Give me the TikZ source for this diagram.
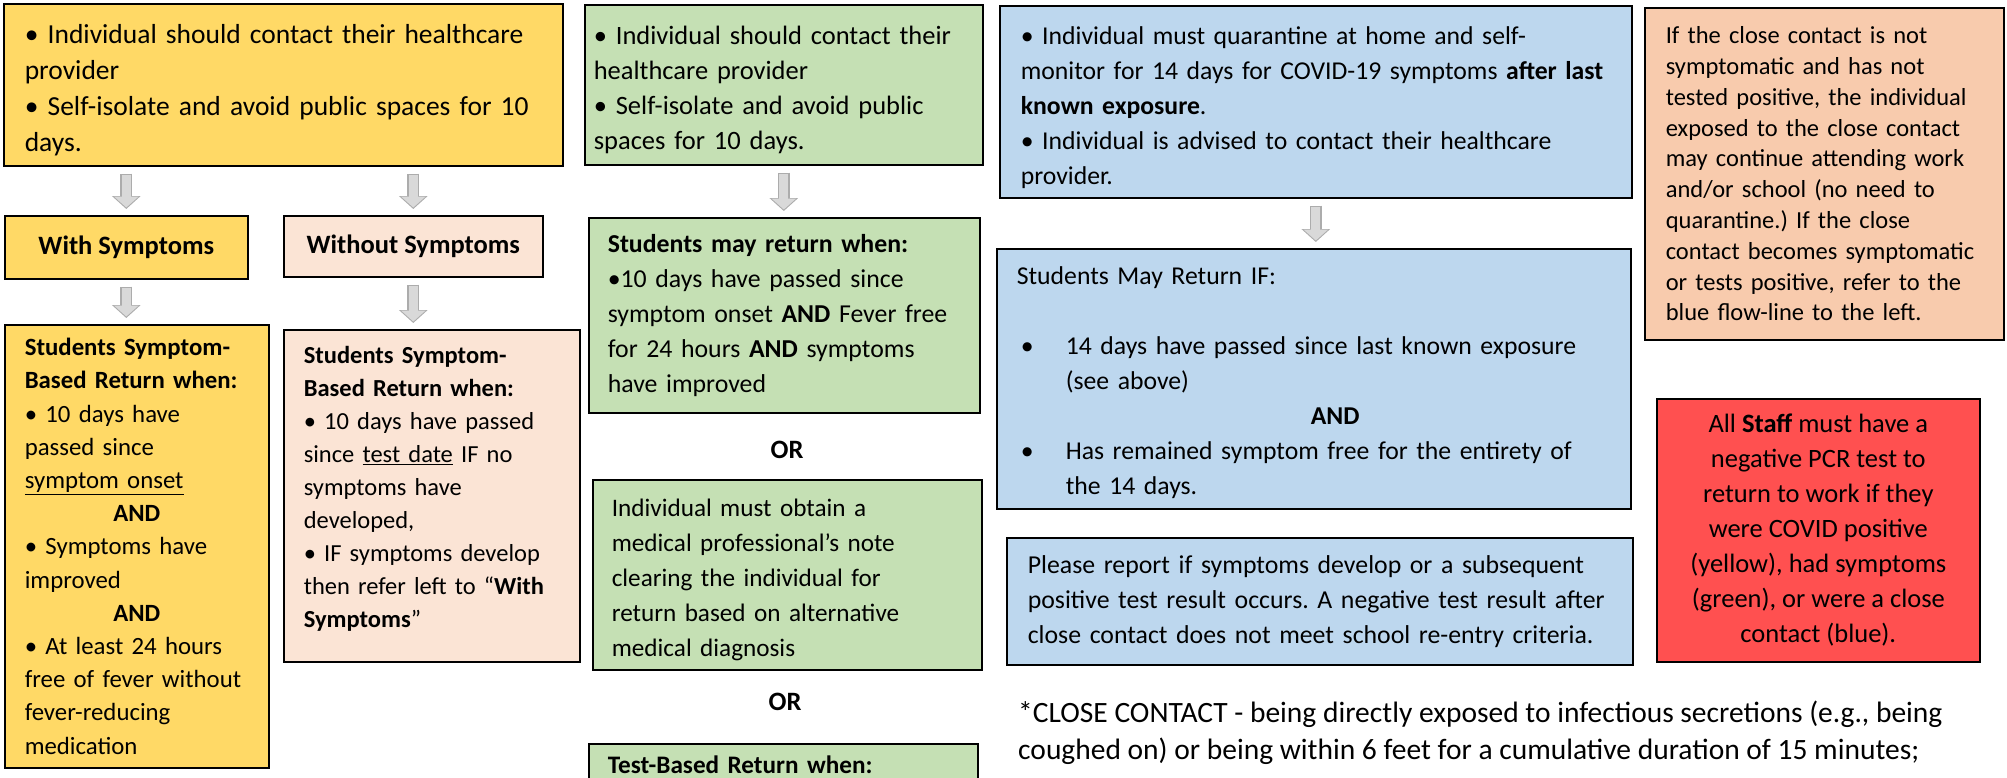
\documentclass[tikz,border=0pt]{standalone}
\usepackage{fontspec}
\setmainfont{Carlito}
\usepackage{tikz}
\usetikzlibrary{arrows.meta}
\definecolor{cyel}{RGB}{255,217,102}
\definecolor{cpnk}{RGB}{251,228,213}
\definecolor{cgrn}{RGB}{197,224,180}
\definecolor{cblu}{RGB}{189,215,238}
\definecolor{corg}{RGB}{248,203,173}
\definecolor{cred}{RGB}{255,80,80}
\hyphenpenalty=10000
\exhyphenpenalty=10000
\frenchspacing
\tikzset{
  flowbox/.style = {rectangle, draw=black, line width=1.6pt, anchor=north west,
    align=left, inner ysep=0pt, font=\fontsize{26.5}{35}\selectfont},
  textdrop/.style = {execute at begin node={\rule{0pt}{#1}}},% push the lines down a bit
  box_y/.style = {flowbox, fill=cyel},% covid positive
  box_p/.style = {flowbox, fill=cpnk},% positive, no symptoms
  box_g/.style = {flowbox, fill=cgrn},% symptoms
  box_b/.style = {flowbox, fill=cblu},% close contact
  box_o/.style = {flowbox, fill=corg},% contact of close contact
  box_r/.style = {flowbox, fill=cred, align=center},% staff
  ortext/.style = {inner sep=0pt, font=\fontsize{26.5}{35}\selectfont\bfseries},
  garrow/.style = {draw=gray!30, line width=9pt, -{Triangle[width=24pt,length=11pt]},
    shorten <=8pt, shorten >=7.5pt,
    preaction={draw=gray!65, line width=12pt, -{Triangle[width=28pt,length=13pt]},
      shorten <=7pt, shorten >=6pt}},
}

\begin{document}
\begin{tikzpicture}[x=1pt,y=-1pt]
  \useasboundingbox (0,0) rectangle (2007,777);
  \clip (0,0) rectangle (2007,777);

  % yellow: covid positive
  \node[box_y, textdrop=30pt, minimum width=559pt, minimum height=162pt, inner xsep=21pt, text width=517pt, font=\fontsize{27.5}{36}\selectfont] (y1) at (3,3)
    {• Individual should contact their healthcare\\ provider\\ • Self-isolate and avoid public spaces for 10\\ days.};
  \node[box_y, align=center, minimum width=243pt, minimum height=63pt, font=\fontsize{26.5}{35}\selectfont\bfseries] (y2) at (4,215) {With Symptoms};
  \node[box_p, align=center, minimum width=259pt, minimum height=61pt, font=\fontsize{26.5}{35}\selectfont\bfseries] (n2) at (283,215) {Without Symptoms};
  \node[box_y, minimum width=264pt, minimum height=443pt, inner xsep=20pt, text width=224pt, font=\fontsize{24.8}{33.2}\selectfont] (y3) at (4,324)
    {\textbf{Students Symptom-}\\ \textbf{Based Return when:}\\ • 10 days have\\ passed since\\ \underline{symptom onset}\\
     \makebox[\hsize]{\textbf{AND}}\\ • Symptoms have\\ improved\\ \makebox[\hsize]{\textbf{AND}}\\
     • At least 24 hours\\ free of fever without\\ fever-reducing\\ medication};
  \node[box_p, minimum width=296pt, minimum height=332pt, inner xsep=20pt, text width=256pt, font=\fontsize{24.5}{33}\selectfont] (n3) at (283,329)
    {\textbf{Students Symptom-}\\ \textbf{Based Return when:}\\ • 10 days have passed\\ since \underline{test date} IF no\\ symptoms have\\ developed,\\
     • IF symptoms develop\\ then refer left to “\textbf{With}\\ \textbf{Symptoms}”\rule[-18pt]{0pt}{1pt}};

  % green: symptoms
  \node[box_g, textdrop=29pt, minimum width=398pt, minimum height=160pt, inner xsep=9pt, text width=380pt] (g1) at (584,4)
    {• Individual should contact their\\ healthcare provider\\ • Self-isolate and avoid public\\ spaces for 10 days.};
  \node[box_g, minimum width=391pt, minimum height=195pt, inner xsep=19pt, text width=353pt, font=\fontsize{25.8}{35}\selectfont] (g2) at (588,217)
    {\textbf{Students may return when:}\\ •10 days have passed since\\ symptom onset \textbf{AND} Fever free\\ for 24 hours \textbf{AND} symptoms\\ have improved};
  \node[ortext] (or1) at (787,450) {OR};
  \node[box_g, textdrop=27pt, minimum width=389pt, minimum height=190pt, inner xsep=19pt, text width=351pt, font=\fontsize{25.2}{35}\selectfont] (g3) at (592,479)
    {Individual must obtain a\\ medical professional’s note\\ clearing the individual for\\ return based on alternative\\ medical diagnosis};
  \node[ortext] (or2) at (785,702) {OR};
  \node[box_g, minimum width=389pt, inner xsep=19pt, inner ysep=12pt, text width=351pt, font=\fontsize{25.2}{35}\selectfont] (g4) at (588,743)
    {\textbf{Test-Based Return when:}\\ \mbox{}};

  % blue: close contact
  \node[box_b, textdrop=29pt, minimum width=632pt, minimum height=192pt, inner xsep=21pt, text width=590pt, font=\fontsize{25.7}{35}\selectfont] (b1) at (999,5)
    {• Individual must quarantine at home and self-\\ monitor for 14 days for COVID-19 symptoms \textbf{after last}\\ \textbf{known exposure}.\\
     • Individual is advised to contact their healthcare\\ provider.};
  \node[box_b, textdrop=25pt, minimum width=634pt, minimum height=260pt, inner xsep=20pt, text width=594pt, font=\fontsize{25.7}{35}\selectfont] (b2) at (996,248)
    {Students May Return IF:\\[35pt]
     \hspace*{4pt}\makebox[45pt][l]{•}14 days have passed since last known exposure\\
     \hspace*{49pt}(see above)\\
     \hspace*{294pt}\textbf{AND}\\
     \hspace*{4pt}\makebox[45pt][l]{•}Has remained symptom free for the entirety of\\
     \hspace*{49pt}the 14 days.};
  \node[box_b, minimum width=626pt, minimum height=127pt, inner xsep=21pt, text width=584pt, font=\fontsize{25.8}{35}\selectfont] (b3) at (1006,537)
    {Please report if symptoms develop or a subsequent\\ positive test result occurs. A negative test result after\\ close contact does not meet school re-entry criteria.};

  % right column
  \node[box_o, minimum width=359pt, minimum height=332pt, inner xsep=21pt, text width=317pt, font=\fontsize{24.5}{30.8}\selectfont] (o1) at (1644,7)
    {If the close contact is not\\ symptomatic and has not\\ tested positive, the individual\\ exposed to the close contact\\ may continue attending work\\
     and/or school (no need to\\ quarantine.) If the close\\ contact becomes symptomatic\\ or tests positive, refer to the\\ blue flow-line to the left.};
  \node[box_r, textdrop=29pt, minimum width=323pt, minimum height=263pt] (r1) at (1656,398)
    {All \textbf{Staff} must have a\\ negative PCR test to\\ return to work if they\\ were COVID positive\\ (yellow), had symptoms\\ (green), or were a close\\ contact (blue).};
  \node[anchor=north west, align=left, inner sep=0pt, font=\fontsize{29.5}{37}\selectfont] (foot) at (1018,701)
    {*CLOSE CONTACT - being directly exposed to infectious secretions (e.g., being\\ coughed on) or being within 6 feet for a cumulative duration of 15 minutes;};

  % arrows
  \draw[garrow] (y1.south -| y2.north) -- (y2.north);
  \draw[garrow] (y1.south -| n2.north) -- (n2.north);
  \draw[garrow] (y2.south) -- (y2.south |- y3.north);
  \draw[garrow] (n2.south) -- (n2.south |- n3.north);
  \draw[garrow] (g1.south) -- (g1.south |- g2.north);
  \draw[garrow] (b1.south) -- (b1.south |- b2.north);
\end{tikzpicture}
\end{document}
